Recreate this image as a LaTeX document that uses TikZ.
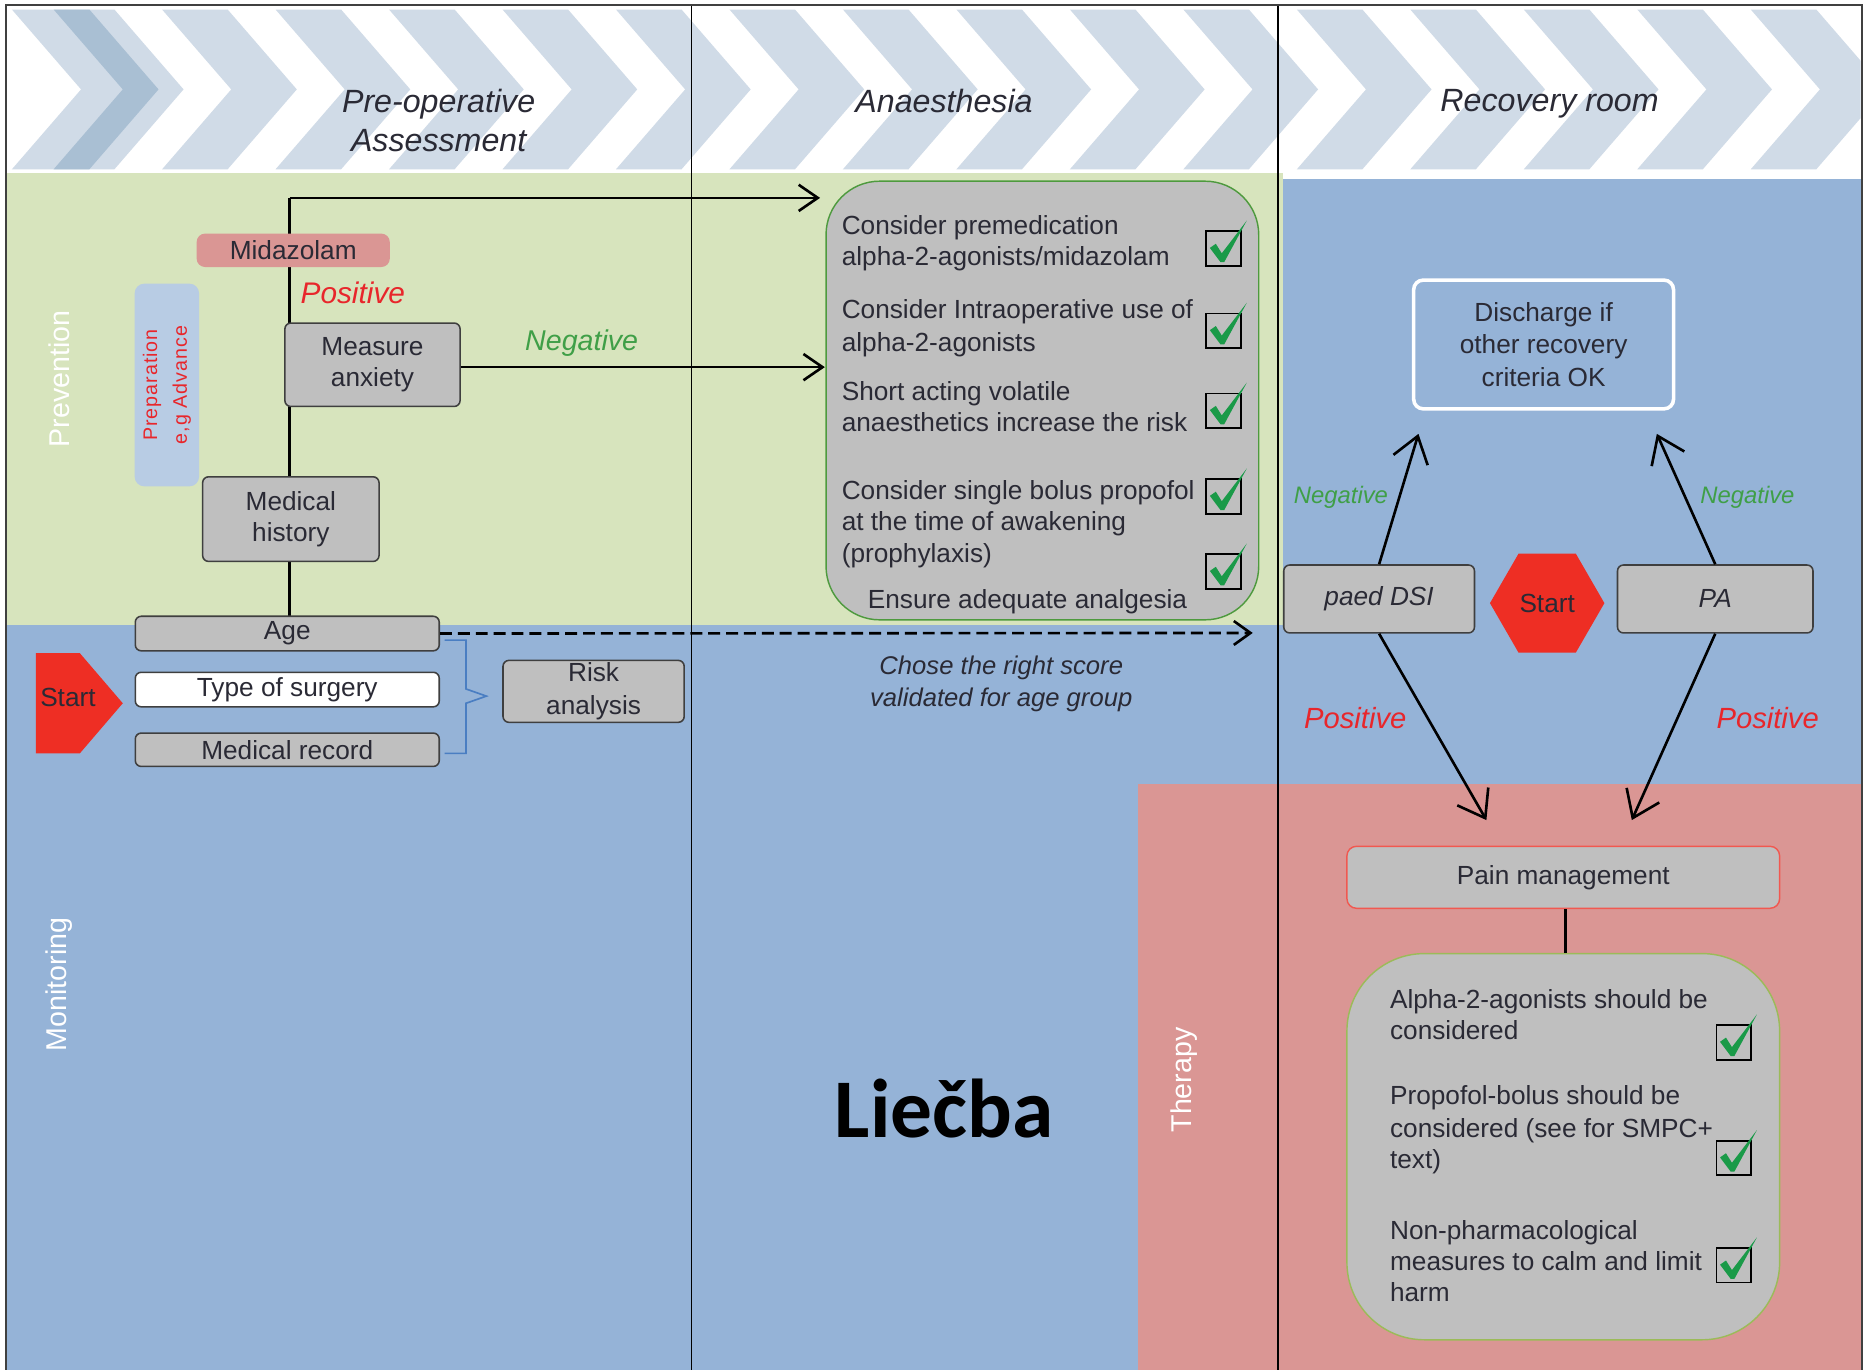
\documentclass[tikz,border=0pt]{standalone}
\usepackage{fontspec}
\setmainfont{Liberation Sans}
\newfontfamily\spacedf[LetterSpace=5]{Liberation Sans}
\newfontfamily\calibf{Carlito}
\usetikzlibrary{arrows.meta,shapes.geometric}
\definecolor{bggreen}{HTML}{D7E4BD}
\definecolor{bgblue}{HTML}{95B3D7}
\definecolor{bgpink}{HTML}{DA9694}
\definecolor{chevlight}{HTML}{D0DBE7}
\definecolor{chevdark}{HTML}{A9BFD3}
\definecolor{boxgray}{HTML}{BFBFBF}
\definecolor{boxedge}{HTML}{3F3F3F}
\definecolor{startred}{HTML}{EE2E24}
\definecolor{txtred}{HTML}{E8262B}
\definecolor{txtgreen}{HTML}{3F9F47}
\definecolor{chkgreen}{HTML}{1A9A48}
\definecolor{prepblue}{HTML}{B8CCE4}
\definecolor{anedge}{HTML}{4E9A3E}
\definecolor{thedge}{HTML}{9BBB59}
\definecolor{txtdark}{HTML}{2A2A35}
\definecolor{bracecol}{HTML}{4A7EC2}
\begin{document}
\begin{tikzpicture}[x=1pt,y=-1pt,
  f22/.style={font=\fontsize{22}{26.5}\selectfont},
  gbox/.style={draw=boxedge, fill=boxgray, rounded corners=5pt, line width=1.3pt,
     align=center, inner sep=0pt, text=txtdark, f22},
  line/.style={draw=black, line width=2.2pt},
  arrS/.style={line, -{Straight Barb[length=16pt,width=22pt,line width=2.2pt]}},
  arrL/.style={line, -{Straight Barb[length=21pt,width=30pt,line width=2.2pt]}},
  lbl/.style={inner sep=0pt, text=txtdark, f22, anchor=base west},
  chk/.pic={\draw[black, line width=1.4pt] (0,0) rectangle (29,29);
            \fill[chkgreen] (3,14) -- (8,10.5) -- (13,18.5) -- (34,-9) -- (15,26) -- (12,26) -- cycle;},
  sidelbl/.style={rotate=90, text=white, font=\fontsize{24}{28}\selectfont, inner sep=0pt}
]
\useasboundingbox (0,0) rectangle (1568,1149);
% backgrounds
\fill[white] (0,0) rectangle (1568,1149);
\fill[bgblue] (5,145) rectangle (1562,1149);
\fill[bggreen] (5,145) rectangle (1076,524);
\fill[bgpink] (955,658) rectangle (1562,1149);
\fill[white] (1076,143) rectangle (1562,150);
% header chevrons
\begin{scope}
\clip (6,6) rectangle (1561,143);
\fill[chevlight] (10,8) -- (96,8) -- (154,75) -- (96,142) -- (10,142) -- (68,75) -- cycle;
\fill[chevdark] (45,8) -- (75,8) -- (133,75) -- (75,142) -- (45,142) -- (103,75) -- cycle;
\foreach \k in {0,...,15}{
  \pgfmathsetmacro{\xa}{136+95.2*\k}
  \fill[chevlight] (\xa,8) -- (\xa+55,8) -- (\xa+113,75) -- (\xa+55,142) -- (\xa,142) -- (\xa+58,75) -- cycle;
}
\end{scope}
% header texts
\node[text=txtdark, align=center, font=\itshape\fontsize{27}{33}\selectfont, inner sep=0pt] (hpre) at (368,101) {Pre-operative\\Assessment};
\node[text=txtdark, font=\itshape\fontsize{27}{33}\selectfont, inner sep=0pt] (hana) at (792,85) {Anaesthesia};
\node[text=txtdark, font=\itshape\fontsize{27}{33}\selectfont, inner sep=0pt] (hrec) at (1300,87) {Recovery room};
% dividers and frame
\draw[black, line width=1.3pt] (580,4) -- (580,1149);
\draw[black, line width=1.3pt] (1072,4) -- (1072,1149);
\draw[black!75, line width=1.6pt] (5,1149) -- (5,4) -- (1562,4) -- (1562,1149);
% side labels
\node[sidelbl] (lprev) at (50,318) {Prevention};
\node[sidelbl] (lmon) at (50,826) {Monitoring};
\node[sidelbl] (lther) at (993,906) {Therapy};
% preparation box
\node[rotate=90, fill=prepblue, rounded corners=8pt, minimum width=170, minimum height=54,
  inner sep=0pt, align=center, text=txtred, font=\spacedf\fontsize{16.5}{25}\selectfont] (prep) at (140,323) {Preparation\\e,g Advance};
% pre-operative flow
\coordinate (vtop) at (243,166);
\coordinate (atop) at (688,166);
\coordinate (aneg) at (692,308);
\coordinate (adash) at (1051,531);
\draw[line] (vtop) -- (243,518);
\draw[arrS] (vtop) -- (atop);
\node[fill=bgpink, rounded corners=7pt, minimum width=162, minimum height=28, inner sep=0pt, text=txtdark, f22] (mida) at (246,210) {Midazolam};
\node[gbox, minimum width=147, minimum height=70] (meas) at (312.5,306) {Measure\\anxiety};
\node[gbox, minimum width=148, minimum height=71] (medh) at (244,435.5) {Medical\\history};
\node[gbox, minimum width=255, minimum height=29] (age) at (241,531.5) {Age};
\node[gbox, fill=white, minimum width=255, minimum height=29] (tos) at (241,578.5) {Type of surgery};
\node[gbox, minimum width=255, minimum height=28] (mrec) at (241,629) {Medical record};
\node[gbox, minimum width=152, minimum height=52, font=\fontsize{22}{28}\selectfont] (risk) at (498,580) {Risk\\analysis};
\draw[arrS] (meas.east |- aneg) -- (aneg);
\draw[line, dashed, dash pattern=on 10pt off 5pt, -{Straight Barb[length=14pt,width=20pt,line width=2.2pt]}] (age.east) -- (adash);
\draw[color=bracecol, line width=1.4pt] (373,537) -- (391,537) -- (391,578) -- (408,584) -- (391,590) -- (391,632) -- (373,632);
\fill[startred] (30,548) -- (67,548) -- (103,590) -- (67,632) -- (30,632) -- cycle;
\node[text=txtdark, f22, inner sep=0pt] (start1) at (57,585) {Start};
\node[text=txtred, font=\itshape\fontsize{25}{30}\selectfont, inner sep=0pt] (pos1) at (296,246) {Positive};
\node[text=txtgreen, font=\itshape\fontsize{24}{30}\selectfont, inner sep=0pt] (neg1) at (488,288) {Negative};
% anaesthesia box
\node[draw=anedge, line width=1.2pt, fill=boxgray, rounded corners=45pt, minimum width=363, minimum height=368, inner sep=0pt] (anbox) at (874.5,336) {};
\node[lbl] (a1) at (706,197) {Consider premedication};
\node[lbl] (a2) at (706,223) {alpha-2-agonists/midazolam};
\node[lbl] (a3) at (706,267) {Consider Intraoperative use of};
\node[lbl] (a4) at (706,295) {alpha-2-agonists};
\node[lbl] (a5) at (706,336) {Short acting volatile};
\node[lbl] (a6) at (706,362) {anaesthetics increase the risk};
\node[lbl] (a7) at (706,419) {Consider single bolus propofol};
\node[lbl] (a8) at (706,445) {at the time of awakening};
\node[lbl] (a9) at (706,472) {(prophylaxis)};
\node[text=txtdark, f22, inner sep=0pt] (a10) at (862,505) {Ensure adequate analgesia};
\pic at (1012,194) {chk};
\pic at (1012,263) {chk};
\pic at (1012,330) {chk};
\pic at (1012,402) {chk};
\pic at (1012,465) {chk};
\node[text=txtdark, align=center, font=\itshape\fontsize{21.5}{27}\selectfont, inner sep=0pt] (score) at (840,574) {Chose the right score\\validated for age group};
% Liecba
\node[font=\calibf\bfseries\fontsize{70}{80}\selectfont, text=black, inner sep=0pt] (liecba) at (792,930) {Liečba};
% recovery room
\node[draw=white, line width=3pt, rounded corners=8pt, minimum width=218, minimum height=108, align=center, inner sep=0pt, text=txtdark, font=\fontsize{22}{27.5}\selectfont] (disc) at (1295,289) {Discharge if\\other recovery\\criteria OK};
\node[gbox, minimum width=160, minimum height=57, font=\itshape\fontsize{22}{26}\selectfont] (paed) at (1157,502.5) {paed DSI};
\node[gbox, minimum width=164, minimum height=57, font=\itshape\fontsize{22}{26}\selectfont] (pa) at (1439,502.5) {PA};
\node[regular polygon, regular polygon sides=6, shape border rotate=0, minimum size=96, fill=startred, inner sep=0pt, text=txtdark, f22] (start2) at (1298,506) {Start};
\coordinate (dl) at (1190,364);
\coordinate (dr) at (1390,364);
\coordinate (pl) at (1247,688);
\coordinate (pr) at (1369,688);
\draw[arrL] (paed.north) -- (dl);
\draw[arrL] (pa.north) -- (dr);
\draw[arrL] (paed.south) -- (pl);
\draw[arrL] (pa.south) -- (pr);
\node[text=txtgreen, font=\itshape\fontsize{20}{24}\selectfont, inner sep=0pt] (neg2) at (1125,417) {Negative};
\node[text=txtgreen, font=\itshape\fontsize{20}{24}\selectfont, inner sep=0pt] (neg3) at (1466,417) {Negative};
\node[text=txtred, font=\itshape\fontsize{24.5}{30}\selectfont, inner sep=0pt] (pos2) at (1137,602) {Positive};
\node[text=txtred, font=\itshape\fontsize{24.5}{30}\selectfont, inner sep=0pt] (pos3) at (1483,602) {Positive};
% therapy
\node[draw=startred!80, line width=1.2pt, fill=boxgray, rounded corners=8pt, minimum width=363, minimum height=52, inner sep=0pt, text=txtdark, f22] (pain) at (1311.5,736) {Pain management};
\node[draw=thedge, line width=1.2pt, fill=boxgray, rounded corners=65pt, minimum width=363, minimum height=324, inner sep=0pt] (tbox) at (1311.5,962) {};
\draw[line, line width=2.6pt] (pain.south -| 1313,0) -- (tbox.north -| 1313,0);
\node[lbl] (t1) at (1166,846) {Alpha-2-agonists should be};
\node[lbl] (t2) at (1166,872) {considered};
\node[lbl] (t3) at (1166,927) {Propofol-bolus should be};
\node[lbl] (t4) at (1166,954) {considered (see for SMPC+};
\node[lbl] (t5) at (1166,980) {text)};
\node[lbl] (t6) at (1166,1040) {Non-pharmacological};
\node[lbl] (t7) at (1166,1066) {measures to calm and limit};
\node[lbl] (t8) at (1166,1092) {harm};
\pic at (1440,860) {chk};
\pic at (1440,957) {chk};
\pic at (1440,1047) {chk};
\end{tikzpicture}
\end{document}
